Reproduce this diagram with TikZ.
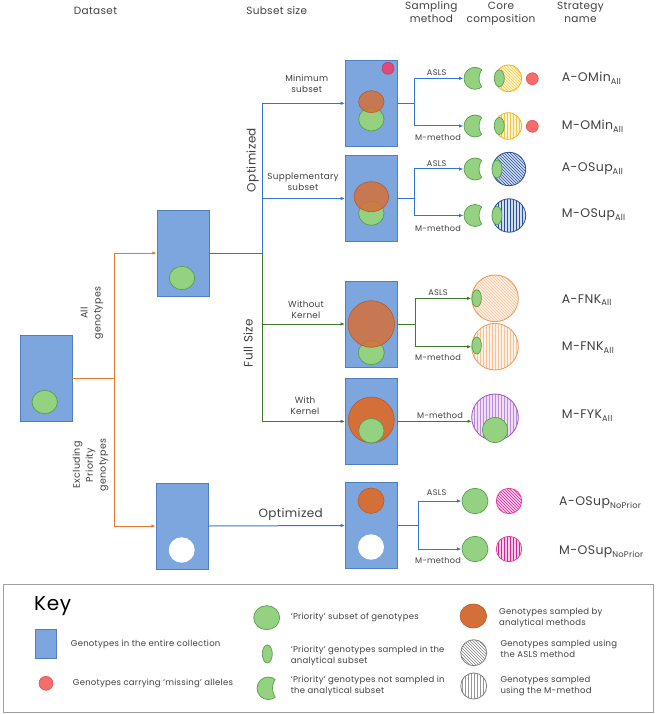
\documentclass[tikz,border=0pt]{standalone}
\usepackage{fontspec}
\setmainfont{Poppins}[LetterSpace=3]
\usetikzlibrary{arrows.meta,patterns}
\definecolor{boxblue}{RGB}{125,166,222}
\definecolor{boxedge}{RGB}{80,126,196}
\definecolor{lblue}{RGB}{50,118,210}
\definecolor{lorange}{RGB}{232,120,46}
\definecolor{lgreen}{RGB}{62,123,42}
\definecolor{gfill}{RGB}{148,210,130}
\definecolor{gedge}{RGB}{88,158,72}
\definecolor{ofill}{RGB}{212,111,57}
\definecolor{oedge}{RGB}{184,90,40}
\definecolor{pinkc}{RGB}{226,72,122}
\definecolor{redf}{RGB}{244,108,108}
\definecolor{rede}{RGB}{224,72,72}
\definecolor{yfill}{RGB}{255,244,205}
\definecolor{yhatch}{RGB}{242,200,80}
\definecolor{yedge}{RGB}{240,180,30}
\definecolor{bfill}{RGB}{208,222,242}
\definecolor{bhatch}{RGB}{47,80,150}
\definecolor{bedge}{RGB}{47,80,143}
\definecolor{pfill}{RGB}{255,240,228}
\definecolor{phatch}{RGB}{248,196,156}
\definecolor{pedge}{RGB}{240,150,90}
\definecolor{vfill}{RGB}{240,222,248}
\definecolor{vhatch}{RGB}{190,140,215}
\definecolor{vedge}{RGB}{160,80,200}
\definecolor{mfill}{RGB}{250,205,235}
\definecolor{mhatch}{RGB}{210,40,150}
\definecolor{medge}{RGB}{224,64,160}
\definecolor{txtgray}{RGB}{64,64,64}
\definecolor{keyedge}{RGB}{160,160,160}
\newcommand\stsub[1]{\raisebox{-2.5pt}{\fontsize{8.3}{8}\selectfont #1}}
\newcommand\mycres[3]{%
  \begin{scope}[even odd rule]
    \clip ({#1-#3-3},{#2-#3-3}) rectangle ({#1+#3+3},{#2+#3+3}) ({#1+1.73*#3},#2) circle ({1.36*#3});
    \filldraw[fill=gfill,draw=gedge,line width=0.7pt] (#1,#2) circle (#3);
  \end{scope}
  \begin{scope}
    \clip (#1,#2) circle (#3);
    \draw[gedge,line width=0.7pt] ({#1+1.73*#3},#2) circle ({1.36*#3});
  \end{scope}}
\newcommand\hcirc[7]{%
  \fill[#4] (#1,#2) circle (#3);
  \fill[pattern=#5, pattern color=#6] (#1,#2) circle (#3);
  \draw[#7, line width=0.8pt] (#1,#2) circle (#3);}
\begin{document}
\begin{tikzpicture}[x=1pt,y=-1pt,
  box/.style={draw=boxedge, fill=boxblue, line width=0.6pt, minimum width=51.7pt, minimum height=86pt, inner sep=0pt},
  arr/.style={-{Latex[length=4.5pt,width=3.5pt]}},
  bline/.style={draw=lblue, line width=1pt},
  oline/.style={draw=lorange, line width=1pt},
  gline/.style={draw=lgreen, line width=1pt},
  gsh/.style={fill=gfill, draw=gedge, line width=0.7pt},
  osh/.style={fill=ofill, draw=oedge, line width=0.6pt},
  hdr/.style={font=\fontsize{10.5}{13}\selectfont, text=txtgray, align=center, inner sep=0pt},
  lab/.style={font=\fontsize{8.8}{11}\selectfont, text=txtgray, align=center, inner sep=0pt},
  sml/.style={font=\fontsize{8.2}{10}\selectfont, text=txtgray, inner sep=0pt},
  big/.style={font=\fontsize{12}{14}\selectfont, text=txtgray, inner sep=0pt},
  strat/.style={font=\fontsize{12.5}{14}\selectfont, text=txtgray, anchor=west, inner sep=0pt},
  keytxt/.style={font=\fontsize{8.5}{11}\selectfont, text=txtgray, anchor=west, align=left, inner sep=0pt}]
\useasboundingbox (0,0) rectangle (656,714);

% headers
\node[hdr] (h1) at (95.5,11) {Dataset};
\node[hdr] (h2) at (276.7,11) {Subset size};
\node[hdr] (h3) at (431.4,12.5) {Sampling\\method};
\node[hdr] (h4) at (501,14) {Core\\composition};
\node[hdr] (h5) at (580.5,12.3) {Strategy\\name};

% boxes
\node[box] (b1) at (46.2,378) {};
\node[box] (b2) at (183,253) {};
\node[box] (b3) at (182,526) {};
\node[box] (bmin) at (371.2,103.3) {};
\node[box] (bsup) at (371.2,198.5) {};
\node[box] (bwok) at (371.2,324) {};
\node[box] (bwk) at (371.2,421.3) {};
\node[box] (bex) at (371.2,525.5) {};

% contents of boxes
\filldraw[gsh] (44.7,402) ellipse (12.7 and 11.7);
\filldraw[gsh] (182,278) ellipse (12.7 and 11.7);
\fill[white] (181.7,550) ellipse (13 and 12.7);
\filldraw[fill=pinkc,draw=pinkc!80!black,line width=0.5pt] (388,68.3) circle (6);
\filldraw[gsh] (371.3,119.3) ellipse (12.7 and 11.7);
\filldraw[osh,fill opacity=0.85] (371.3,101.7) ellipse (12.7 and 11);
\filldraw[gsh] (371.3,213.3) ellipse (12.7 and 12);
\filldraw[osh,fill opacity=0.85] (371.3,196.7) ellipse (17.3 and 15);
\filldraw[gsh] (371.3,352.7) ellipse (13 and 12);
\filldraw[osh,fill opacity=0.85] (371.3,324) circle (23.3);
\filldraw[osh] (371.3,420) circle (23);
\filldraw[gsh] (371.3,430.7) ellipse (12.7 and 12.3);
\filldraw[osh] (371,500.7) ellipse (13 and 12.7);
\fill[white] (371,547) ellipse (13 and 12.7);

% left connectors
\coordinate (jo) at (114,378);
\draw[oline] (b1.east) -- (jo);
\draw[oline,arr] (jo) |- (b2.west);
\draw[oline,arr] (jo) |- (b3.west);
\node[lab, rotate=90, font=\fontsize{9.5}{13}\selectfont] (lall) at (92,313) {All\\genotypes};
\node[lab, rotate=90, font=\fontsize{9.5}{13}\selectfont] (lexc) at (90.5,465) {Excluding\\Priority\\genotypes};

\coordinate (jb) at (262,253);
\draw[bline] (b2.east) -- (jb);
\draw[bline,arr] (jb) |- (bmin.west);
\draw[bline,arr] (jb) |- (bsup.west);
\draw[gline,arr] (jb) |- (bwok.west);
\draw[gline,arr] (jb) |- (bwk.west);
\draw[bline,arr] (b3.east) -- (bex.west);
\node[big, rotate=90] (lopt) at (252.7,160) {Optimized};
\node[big, rotate=90] (lfull) at (248,343) {Full Size};
\node[big] (lopt2) at (290.7,514) {Optimized};
\node[lab] (lmin) at (306.7,83.5) {Minimum\\subset};
\node[lab] (lsup) at (303,182) {Supplementary\\subset};
\node[lab] (lwok) at (306,310) {Without\\Kernel};
\node[lab] (lwk) at (305,406) {With\\Kernel};

% right fans
\coordinate (fmin) at (414.7,103.3);
\coordinate (tminA) at (463.5,78.3);
\coordinate (tminM) at (463.5,126);
\draw[bline] (bmin.east) -- (fmin);
\draw[bline,arr] (fmin) |- (tminA);
\draw[bline,arr] (fmin) |- (tminM);
\node[sml] (aminA) at (436.7,72.3) {ASLS};
\node[sml] (aminM) at (438,138) {M-method};

\coordinate (fsup) at (414.7,198.5);
\coordinate (tsupA) at (463.5,169);
\coordinate (tsupM) at (463.5,215.5);
\draw[bline] (bsup.east) -- (fsup);
\draw[bline,arr] (fsup) |- (tsupA);
\draw[bline,arr] (fsup) |- (tsupM);
\node[sml] (asupA) at (436.7,163.3) {ASLS};
\node[sml] (asupM) at (438,229) {M-method};

\coordinate (fwok) at (415,324);
\coordinate (twokA) at (471.5,298.3);
\coordinate (twokM) at (471.5,346.7);
\draw[gline] (bwok.east) -- (fwok);
\draw[gline,arr] (fwok) |- (twokA);
\draw[gline,arr] (fwok) |- (twokM);
\node[sml] (awokA) at (438,292.5) {ASLS};
\node[sml] (awokM) at (438,357) {M-method};

\coordinate (twk) at (472,421.3);
\draw[gline,arr] (bwk.east) -- (twk);
\node[sml] (awk) at (440,415) {M-method};

\coordinate (fex) at (418,525.5);
\coordinate (texA) at (461.5,501);
\coordinate (texM) at (461.5,549);
\draw[bline] (bex.east) -- (fex);
\draw[bline,arr] (fex) |- (texA);
\draw[bline,arr] (fex) |- (texM);
\node[sml] (aexA) at (436.7,493) {ASLS};
\node[sml] (aexM) at (438,560) {M-method};

% core compositions
\mycres{475}{78.3}{11}
\hcirc{508.3}{78.3}{13.3}{yfill}{north west lines}{yhatch}{yedge}
\filldraw[gsh] (499.3,78.3) ellipse (5 and 8.5);
\filldraw[fill=redf,draw=rede,line width=0.5pt] (532.3,78.7) circle (6);

\mycres{475}{126}{11}
\hcirc{508.3}{126}{13.3}{yfill}{vertical lines}{yhatch}{yedge}
\filldraw[gsh] (499.3,126) ellipse (5 and 8.5);
\filldraw[fill=redf,draw=rede,line width=0.5pt] (532.3,126.3) circle (6);

\mycres{475}{169}{11}
\hcirc{509}{169}{16.7}{bfill}{north west lines}{bhatch}{bedge}
\filldraw[gsh] (497,169) ellipse (5 and 9);

\mycres{475}{215.5}{11}
\hcirc{509}{215.5}{16.7}{bfill}{vertical lines}{bhatch}{bedge}
\filldraw[gsh] (497,215.5) ellipse (5 and 9);

\hcirc{495}{298.3}{23.3}{pfill}{north west lines}{phatch}{pedge}
\filldraw[gsh] (476.7,298.3) ellipse (4.7 and 8.5);
\hcirc{495}{346.7}{23.3}{pfill}{vertical lines}{phatch}{pedge}
\filldraw[gsh] (476.7,345.5) ellipse (4.7 and 8.5);

\hcirc{495}{417.3}{23.3}{vfill}{vertical lines}{vhatch}{vedge}
\filldraw[gsh] (495,430) circle (12.7);

\filldraw[gsh] (475,501) ellipse (13 and 12.7);
\hcirc{509}{501}{12.7}{mfill}{north west lines}{mhatch}{medge}
\filldraw[gsh] (475,549) ellipse (13 and 12.7);
\hcirc{509}{549}{12.7}{mfill}{vertical lines}{mhatch}{medge}

% strategy names
\node[strat] (s1) at (561.7,78.3) {A-OMin\stsub{All}};
\node[strat] (s2) at (561.7,126) {M-OMin\stsub{All}};
\node[strat] (s3) at (561.7,169) {A-OSup\stsub{All}};
\node[strat] (s4) at (561.7,215) {M-OSup\stsub{All}};
\node[strat] (s5) at (561.7,300) {A-FNK\stsub{All}};
\node[strat] (s6) at (561.7,347.7) {M-FNK\stsub{All}};
\node[strat] (s7) at (561.7,415.7) {M-FYK\stsub{All}};
\node[strat] (s8) at (559,503) {A-OSup\stsub{NoPrior}};
\node[strat] (s9) at (559,552) {M-OSup\stsub{NoPrior}};

% key
\draw[keyedge, line width=0.8pt] (3,584) rectangle (653,712.3);
\node[anchor=west, inner sep=0pt, font=\fontsize{20}{21}\selectfont] (kt) at (34,606) {Key};
\filldraw[fill=boxblue, draw=boxedge, line width=0.6pt] (35,629.3) rectangle (56.7,658.3);
\node[keytxt] (k1) at (70.7,644) {Genotypes in the entire collection};
\filldraw[fill=redf,draw=rede,line width=0.5pt] (46,683.3) circle (7);
\node[keytxt] (k2) at (72.7,683.3) {Genotypes carrying ‘missing’ alleles};
\filldraw[gsh] (266.7,617.7) ellipse (13 and 12);
\node[keytxt] (k3) at (290.7,617.7) {‘Priority’ subset of genotypes};
\filldraw[gsh] (267.3,654) ellipse (5 and 9);
\node[keytxt] (k4) at (290.7,655.5) {‘Priority’ genotypes sampled in the\\analytical subset};
\mycres{268.3}{688.3}{11.3}
\node[keytxt] (k5) at (290.7,685.5) {‘Priority’ genotypes not sampled in\\the analytical subset};
\filldraw[osh] (473.3,616) ellipse (13.3 and 12);
\node[keytxt] (k6) at (499,618) {Genotypes sampled by\\analytical methods};
\hcirc{473.7}{652.7}{13}{white}{north west lines}{gray}{gray}
\node[keytxt] (k7) at (500.3,648.7) {Genotypes sampled using\\the ASLS method};
\hcirc{473.7}{686}{13}{white}{vertical lines}{gray!80}{gray}
\node[keytxt] (k8) at (500.3,685.5) {Genotypes sampled\\using the M-method};
\end{tikzpicture}
\end{document}
